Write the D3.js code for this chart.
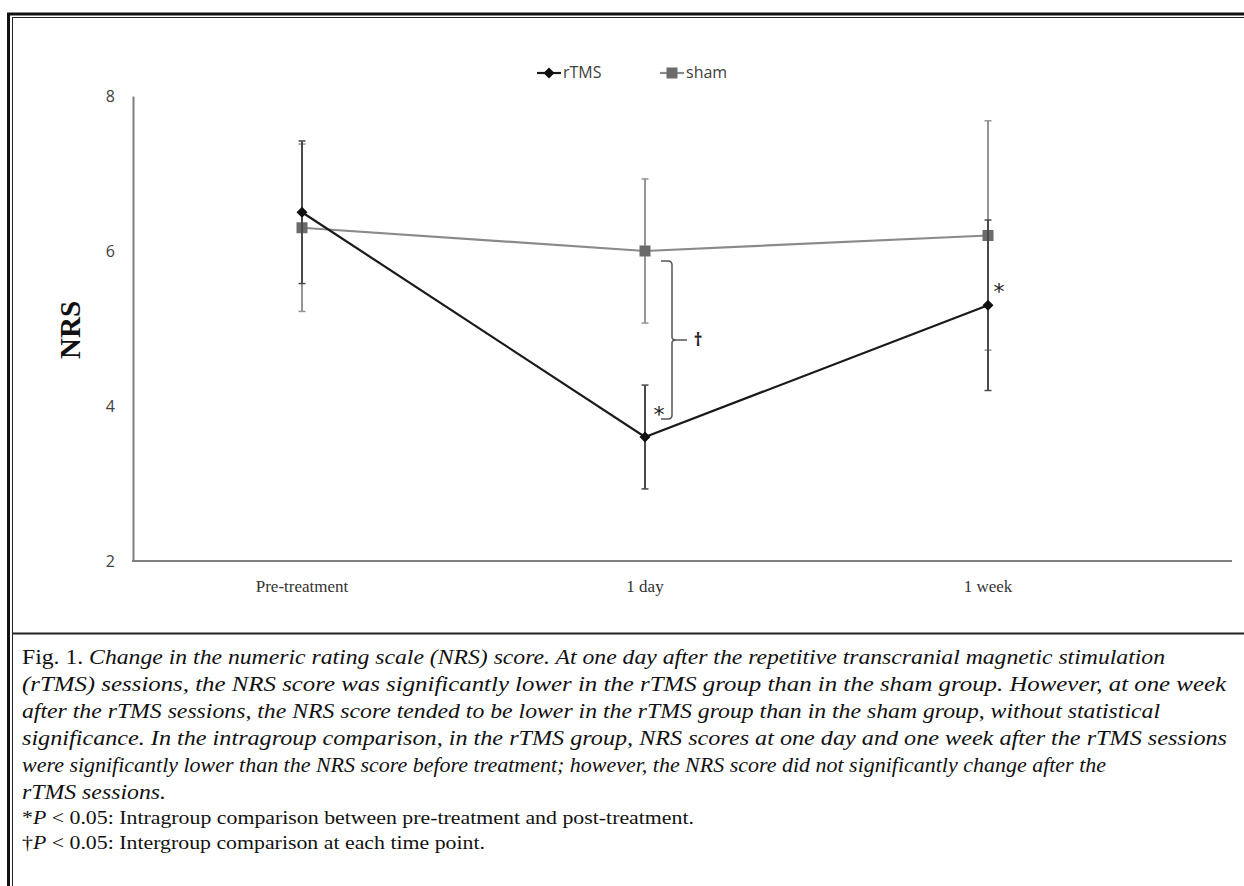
<!DOCTYPE html>
<html>
<head>
<meta charset="utf-8">
<script src="https://cdn.jsdelivr.net/npm/d3@7"></script>
<style>
  body { margin: 0; background: #fff; }
  svg { display: block; }
</style>
</head>
<body>
<div id="chart"></div>
<script>
var width = 1244,
    height = 886;

// values
var categories = ["Pre-treatment", "1 day", "1 week"];
var rtmsMean = [6.5, 3.6, 5.3];
var rtmsSD = [0.92, 0.67, 1.1];
var shamMean = [6.3, 6.0, 6.2];
var shamSD = [1.08, 0.93, 1.48];
var yTicks = [2, 4, 6, 8];

var captionLines = [
  { lead: "Fig. 1. ", text: "Change in the numeric rating scale (NRS) score. At one day after the repetitive transcranial magnetic stimulation", end: 1165 },
  { lead: "", text: "(rTMS) sessions, the NRS score was significantly lower in the rTMS group than in the sham group. However, at one week", end: 1226 },
  { lead: "", text: "after the rTMS sessions, the NRS score tended to be lower in the rTMS group than in the sham group, without statistical", end: 1160 },
  { lead: "", text: "significance. In the intragroup comparison, in the rTMS group, NRS scores at one day and one week after the rTMS sessions", end: 1227 },
  { lead: "", text: "were significantly lower than the NRS score before treatment; however, the NRS score did not significantly change after the", end: 1106 },
  { lead: "", text: "rTMS sessions.", end: 166 }
];
var footnotes = [
  { mark: "*", rest: " < 0.05: Intragroup comparison between pre-treatment and post-treatment.", end: 694 },
  { mark: "\u2020", rest: " < 0.05: Intergroup comparison at each time point.", end: 485 }
];

var svg = d3.select("#chart").append("svg")
    .attr("width", width)
    .attr("height", height);

// frame
var frame = svg.append("g");
frame.append("line").attr("x1", 8.5).attr("x2", 8.5).attr("y1", 13).attr("y2", height)
    .attr("stroke", "#111").attr("stroke-width", 3);
frame.append("line").attr("x1", 7).attr("x2", width).attr("y1", 14).attr("y2", 14)
    .attr("stroke", "#111").attr("stroke-width", 3);
frame.append("line").attr("x1", 12.5).attr("x2", 12.5).attr("y1", 17).attr("y2", height)
    .attr("stroke", "#222").attr("stroke-width", 1);
frame.append("line").attr("x1", 12).attr("x2", width).attr("y1", 17.5).attr("y2", 17.5)
    .attr("stroke", "#222").attr("stroke-width", 1);
frame.append("line").attr("x1", 12).attr("x2", width).attr("y1", 633.5).attr("y2", 633.5)
    .attr("stroke", "#222").attr("stroke-width", 2);

var x = d3.scalePoint()
    .domain(categories)
    .range([302, 988]);

var y = d3.scaleLinear()
    .domain([2, 8])
    .range([561, 96]);

// axes
var yAxis = svg.append("g")
    .attr("transform", "translate(133,0)")
    .call(d3.axisLeft(y).tickValues(yTicks).tickFormat(d3.format("d")).tickSize(0).tickPadding(18));
yAxis.select(".domain").attr("stroke", "#808080").attr("stroke-width", 2);
yAxis.selectAll("text")
    .attr("font-family", "'Open Sans', 'Noto Sans', sans-serif")
    .attr("font-size", 16)
    .attr("fill", "#404040");

svg.append("line")
    .attr("x1", 132).attr("x2", 1232)
    .attr("y1", y(2)).attr("y2", y(2))
    .attr("stroke", "#808080").attr("stroke-width", 2);

svg.append("g").selectAll("text")
    .data(categories)
    .enter()
    .append("text")
    .attr("x", function (d) { return x(d); })
    .attr("y", 592)
    .attr("text-anchor", "middle")
    .attr("font-family", "'Liberation Serif', 'Times New Roman', serif")
    .attr("font-size", 17)
    .attr("fill", "#333")
    .text(function (d) { return d; });

svg.append("text")
    .attr("transform", "translate(80,330) rotate(-90)")
    .attr("text-anchor", "middle")
    .attr("font-family", "'Liberation Serif', 'Times New Roman', serif")
    .attr("font-weight", "bold")
    .attr("font-size", 29)
    .attr("fill", "#111")
    .text("NRS");

// series
function drawSeries(means, sds, lineColor, barColor, marker) {
  var g = svg.append("g");
  var pts = categories.map(function (c, i) { return { c: c, m: means[i], s: sds[i] }; });

  var bars = g.selectAll(".err").data(pts).enter().append("g");
  bars.append("line")
      .attr("x1", function (d) { return x(d.c); })
      .attr("x2", function (d) { return x(d.c); })
      .attr("y1", function (d) { return y(d.m + d.s); })
      .attr("y2", function (d) { return y(d.m - d.s); })
      .attr("stroke", barColor).attr("stroke-width", 2);
  [1, -1].forEach(function (sgn) {
    bars.append("line")
        .attr("x1", function (d) { return x(d.c) - 3.5; })
        .attr("x2", function (d) { return x(d.c) + 3.5; })
        .attr("y1", function (d) { return y(d.m + sgn * d.s); })
        .attr("y2", function (d) { return y(d.m + sgn * d.s); })
        .attr("stroke", barColor).attr("stroke-width", 1.5);
  });

  g.append("path")
      .datum(pts)
      .attr("fill", "none")
      .attr("stroke", lineColor)
      .attr("stroke-width", 2.2)
      .attr("d", d3.line()
        .x(function (d) { return x(d.c); })
        .y(function (d) { return y(d.m); }));

  g.selectAll(".mk").data(pts).enter().append("path")
      .attr("transform", function (d) { return "translate(" + x(d.c) + "," + y(d.m) + ")"; })
      .attr("d", marker.path)
      .attr("fill", marker.fill);
}

var diamond = { path: "M0,-5.5L5.5,0L0,5.5L-5.5,0Z", fill: "#111" };
var square = { path: "M-5.5,-5.5H5.5V5.5H-5.5Z", fill: "#6b6b6b" };

drawSeries(shamMean, shamSD, "#8a8a8a", "#959595", square);
drawSeries(rtmsMean, rtmsSD, "#1a1a1a", "#4a4a4a", diamond);

// significance marks
var bx = x("1 day") + 27;
var bTop = y(shamMean[1]) + 10, bBot = y(rtmsMean[1]) - 18, bMid = (bTop + bBot) / 2;
svg.append("path")
    .attr("fill", "none")
    .attr("stroke", "#555")
    .attr("stroke-width", 1.5)
    .attr("d", "M" + (bx - 11) + "," + bTop +
      "H" + (bx - 4) + "Q" + bx + "," + bTop + " " + bx + "," + (bTop + 4) +
      "V" + (bMid - 3) + "Q" + bx + "," + bMid + " " + (bx + 4) + "," + bMid +
      "H" + (bx + 15) + "M" + (bx + 4) + "," + bMid +
      "Q" + bx + "," + bMid + " " + bx + "," + (bMid + 3) +
      "V" + (bBot - 4) + "Q" + bx + "," + bBot + " " + (bx - 4) + "," + bBot +
      "H" + (bx - 11));

svg.append("text")
    .attr("x", bx + 26).attr("y", bMid + 6)
    .attr("text-anchor", "middle")
    .attr("font-family", "'Noto Sans', sans-serif")
    .attr("font-weight", "bold")
    .attr("font-size", 17)
    .attr("fill", "#222")
    .text("\u2020");

var stars = [
  { c: "1 day", v: rtmsMean[1], dx: 14, dy: -15 },
  { c: "1 week", v: rtmsMean[2], dx: 11, dy: -6 }
];
svg.selectAll(".star").data(stars).enter().append("text")
    .attr("x", function (d) { return x(d.c) + d.dx; })
    .attr("y", function (d) { return y(d.v) + d.dy; })
    .attr("text-anchor", "middle")
    .attr("font-family", "'DejaVu Sans', sans-serif")
    .attr("font-size", 22)
    .attr("fill", "#222")
    .text("*");

// legend
var legend = svg.append("g").attr("font-family", "'Open Sans', 'Noto Sans', sans-serif")
    .attr("font-size", 16).attr("fill", "#404040");
var legItems = [
  { name: "rTMS", x0: 537, color: "#1a1a1a", marker: diamond },
  { name: "sham", x0: 660, color: "#8a8a8a", marker: square }
];
legItems.forEach(function (d) {
  legend.append("line")
      .attr("x1", d.x0).attr("x2", d.x0 + 24)
      .attr("y1", 73).attr("y2", 73)
      .attr("stroke", d.color).attr("stroke-width", 2.2);
  legend.append("path")
      .attr("transform", "translate(" + (d.x0 + 12) + ",73)")
      .attr("d", d.marker.path)
      .attr("fill", d.marker.fill);
  legend.append("text")
      .attr("x", d.x0 + 26).attr("y", 78)
      .text(d.name);
});

// caption
var cap = svg.append("g")
    .attr("font-family", "'Liberation Serif', 'Times New Roman', serif")
    .attr("fill", "#111");
captionLines.forEach(function (d, i) {
  var t = cap.append("text")
      .attr("x", 22)
      .attr("y", 664 + i * 27)
      .attr("font-size", 20)
      .attr("textLength", d.end - 22)
      .attr("lengthAdjust", "spacingAndGlyphs");
  if (d.lead) t.append("tspan").text(d.lead);
  t.append("tspan").attr("font-style", "italic").text(d.text);
});
footnotes.forEach(function (d, i) {
  var t = cap.append("text")
      .attr("x", 22)
      .attr("y", 824 + i * 25)
      .attr("font-size", 18)
      .attr("textLength", d.end - 22)
      .attr("lengthAdjust", "spacingAndGlyphs");
  t.append("tspan").text(d.mark);
  t.append("tspan").attr("font-style", "italic").text("P");
  t.append("tspan").text(d.rest);
});
</script>
</body>
</html>
